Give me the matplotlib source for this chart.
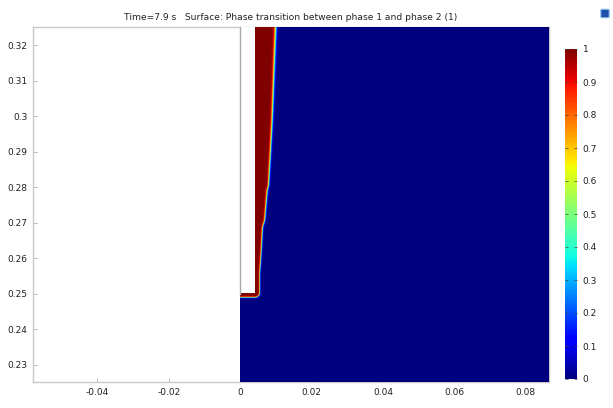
import numpy as np
import matplotlib
matplotlib.use("Agg")
import matplotlib.pyplot as plt
from matplotlib.patches import FancyBboxPatch, Rectangle

# ---- data ----
title = "Time=7.9 s   Surface: Phase transition between phase 1 and phase 2 (1)"
x_ticks = [-0.04, -0.02, 0, 0.02, 0.04, 0.06, 0.08]
x_ticklabels = ["-0.04", "-0.02", "0", "0.02", "0.04", "0.06", "0.08"]
y_ticks = [0.23, 0.24, 0.25, 0.26, 0.27, 0.28, 0.29, 0.3, 0.31, 0.32]
y_ticklabels = ["0.23", "0.24", "0.25", "0.26", "0.27", "0.28", "0.29", "0.3", "0.31", "0.32"]
cb_ticks = [0, 0.1, 0.2, 0.3, 0.4, 0.5, 0.6, 0.7, 0.8, 0.9, 1]
cb_ticklabels = ["0", "0.1", "0.2", "0.3", "0.4", "0.5", "0.6", "0.7", "0.8", "0.9", "1"]

x_range = [-0.058, 0.0865]
y_range = [0.2252, 0.3251]
domain_x = [0.0, 0.0865]
# white obstacle (pipe) rectangle
rect_x = [0.0, 0.0042]
rect_ybottom = 0.2503
film_thickness = 0.0013
# interface (phase 1 / phase 2 front) positions
iface_y = [0.2503, 0.2518, 0.2558, 0.2614, 0.2687, 0.2707, 0.2790, 0.2806, 0.2896, 0.2989, 0.3177, 0.3251]
iface_x = [0.0052, 0.0053, 0.0055, 0.0059, 0.0063, 0.0069, 0.0076, 0.0080, 0.0085, 0.0090, 0.0097, 0.0100]
iface_eps_low = 0.00022
iface_eps_top = 0.00045

# ---- build the field ----
nx, ny = 1600, 1100
xs = np.linspace(domain_x[0], domain_x[1], nx)
ys = np.linspace(y_range[0], y_range[1], ny)
X, Y = np.meshgrid(xs, ys)

dx = np.maximum(np.maximum(rect_x[0] - X, X - rect_x[1]), 0)
dy = np.maximum(rect_ybottom - Y, 0)
d_rect = np.hypot(dx, dy)
film = 0.5 * (1 - np.tanh((d_rect - film_thickness) / iface_eps_low))

xi = np.interp(Y, iface_y, iface_x)
eps = np.interp(Y, [iface_y[0], iface_y[-1]], [iface_eps_low, iface_eps_top])
col = 0.5 * (1 - np.tanh((X - xi) / eps)) * (Y > rect_ybottom)
phi = np.maximum(film, col)

cmap = plt.get_cmap("jet")

fig = plt.figure(figsize=(6.13, 4.08), dpi=100)
ax = fig.add_axes([33 / 613, 26 / 408, 516 / 613, 355 / 408])
im = ax.imshow(phi, extent=[domain_x[0], domain_x[1], y_range[0], y_range[1]],
               origin="lower", cmap=cmap, vmin=0, vmax=1, aspect="auto",
               interpolation="antialiased", zorder=3)
ax.add_patch(Rectangle((rect_x[0], rect_ybottom), rect_x[1] - rect_x[0],
                       y_range[1] - rect_ybottom + 0.001, facecolor="white",
                       edgecolor="none", zorder=3.5))
ax.plot([0, 0], [rect_ybottom - 0.0004, y_range[1]], color="#a8a8a8", lw=1.0, zorder=4)
ax.set_xlim(x_range)
ax.set_ylim(y_range)
for s in ax.spines.values():
    s.set_color("#c8c8c8")
    s.set_linewidth(1.0)
    s.set_zorder(1)
ax.set_xticks(x_ticks)
ax.set_xticklabels(x_ticklabels)
ax.set_yticks(y_ticks)
ax.set_yticklabels(y_ticklabels)
ax.tick_params(direction="in", length=3, width=0.6, color="#b0b0b0",
               labelsize=6.5, labelcolor="#222222", pad=4)

fig.text(0.474, 0.958, title, ha="center", va="center", fontsize=6.6, color="#222222")

cax = fig.add_axes([565 / 613, 29 / 408, 12 / 613, 330 / 408])
cb = fig.colorbar(im, cax=cax, ticks=cb_ticks)
cb.set_ticklabels(cb_ticklabels)
cb.outline.set_visible(False)
cax.tick_params(direction="in", length=2, width=0.5, color="#444444",
                labelsize=6.5, labelcolor="#222222", pad=4, left=True)

icon = FancyBboxPatch((602 / 613, 391 / 408), 6 / 613, 7 / 408,
                      boxstyle="round,pad=0.002", transform=fig.transFigure,
                      facecolor="#1c4fa8", edgecolor="#9cc8f0", lw=0.8)
fig.patches.append(icon)

fig.savefig("out.png", dpi=100)
